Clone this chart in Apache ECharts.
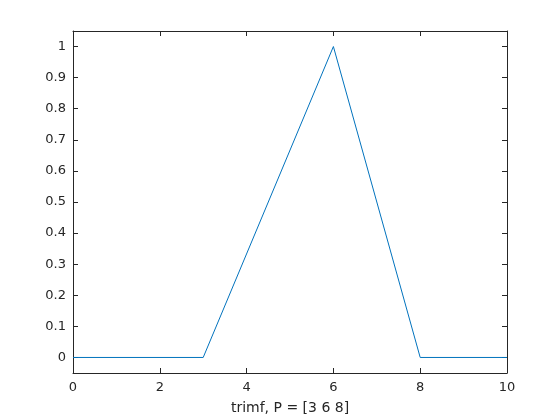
<!DOCTYPE html>
<html><head><meta charset="utf-8">
<script src="https://cdn.jsdelivr.net/npm/echarts@6/dist/echarts.min.js"></script>
<style>html,body{margin:0;padding:0;background:#fff}#c{width:560px;height:420px}</style>
</head><body><div id="c"></div>
<script>
const xValues = [0, 3, 6, 8, 10];
const yValues = [0, 0, 1, 0, 0];
const xTicks = [0, 2, 4, 6, 8, 10];
const yTicks = [0, 0.1, 0.2, 0.3, 0.4, 0.5, 0.6, 0.7, 0.8, 0.9, 1];
const xTitle = 'trimf, P = [3 6 8]';

const axisColor = '#262626';
const font = 'DejaVu Sans';
function xAx(pos, show) {
  return {
    type: 'value', position: pos, min: 0, max: 10,
    name: show ? xTitle : '', nameLocation: 'middle', nameGap: 28,
    nameTextStyle: {color: axisColor, fontSize: 14, fontFamily: font},
    axisLine: {show: true, onZero: false, lineStyle: {color: axisColor, width: 1}},
    axisTick: {show: true, inside: true, length: 5, customValues: xTicks, lineStyle: {color: axisColor}},
    axisLabel: {show: show, customValues: xTicks, color: axisColor, fontSize: 13, fontFamily: font, margin: 8},
    splitLine: {show: false}
  };
}
function yAx(pos, show) {
  return {
    type: 'value', position: pos, min: -0.05, max: 1.05,
    axisLine: {show: true, onZero: false, lineStyle: {color: axisColor, width: 1}},
    axisTick: {show: true, inside: true, length: 5, customValues: yTicks, lineStyle: {color: axisColor}},
    axisLabel: {show: show, customValues: yTicks, color: axisColor, fontSize: 13, fontFamily: font, margin: 7,
      formatter: v => String(Math.round(v * 10) / 10)},
    splitLine: {show: false}
  };
}
const chart = echarts.init(document.getElementById('c'), null, {renderer: 'canvas'});
chart.setOption({
  animation: false,
  grid: {left: 73, right: 53, top: 31, bottom: 47},
  xAxis: [xAx('bottom', true), xAx('top', false)],
  yAxis: [yAx('left', true), yAx('right', false)],
  series: [{
    type: 'line', xAxisIndex: 0, yAxisIndex: 0,
    data: xValues.map((x, i) => [x, yValues[i]]),
    showSymbol: false, lineStyle: {color: '#0072BD', width: 1}, clip: true
  }]
});
</script></body></html>
